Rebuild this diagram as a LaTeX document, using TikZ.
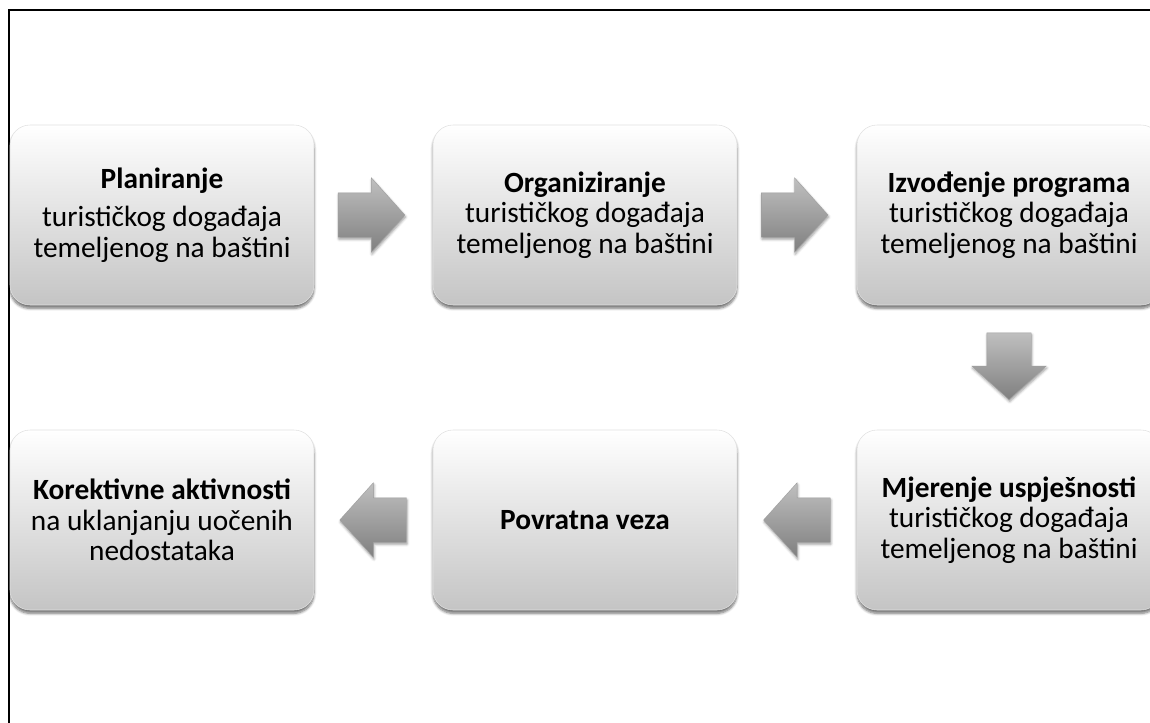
\documentclass[tikz,border=0pt]{standalone}
\usepackage{fontspec}
\setmainfont{Carlito}
\usetikzlibrary{shapes.arrows,shadows.blur,calc}

\tikzset{
	stagebox/.style={rounded corners=15pt, minimum width=228pt, minimum height=135pt, inner sep=0pt,
		top color=white, bottom color=black!23, draw=black!12, line width=0.4pt,
		blur shadow={shadow xshift=0pt, shadow yshift=-2.5pt, shadow blur steps=6, shadow opacity=55},
		align=center, font=\fontsize{22}{22.8}\selectfont},
	flowarrow/.style={single arrow, anchor=tail, inner sep=0pt, text height=33pt, text depth=0pt, text width=0pt,
		minimum height=50pt, single arrow head extend=11.25pt, single arrow tip angle=96,
		top color=black!25, bottom color=black!50, draw=black!38, line width=0.3pt,
		blur shadow={shadow xshift=0.5pt, shadow yshift=-1.5pt, shadow blur steps=4, shadow opacity=40}}
}

\begin{document}
\begin{tikzpicture}[x=0.75pt,y=-0.75pt]
	\useasboundingbox (0,0) rectangle (1150,722);
	\clip (0,0) rectangle (1150,722);
	\draw[line width=1.5pt] (8.5,760) |- (1180,10);

	\node[stagebox] (plan) at (162,215) {\textbf{Planiranje}\\[6pt]turističkog događaja\\temeljenog na baštini};
	\node[stagebox] (organ) at (585,215) {\textbf{Organiziranje}\\turističkog događaja\\temeljenog na baštini};
	\node[stagebox] (izvod) at (1009,215) {\textbf{Izvođenje programa}\\turističkog događaja\\temeljenog na baštini};
	\node[stagebox] (mjer) at (1009,520) {\textbf{Mjerenje uspješnosti}\\turističkog događaja\\temeljenog na baštini};
	\node[stagebox] (povrat) at (585,520) {\textbf{Povratna veza}};
	\node[stagebox] (korekt) at (162,520) {\textbf{Korektivne aktivnosti}\\na uklanjanju uočenih\\nedostataka};

	\node[flowarrow] (a1) at ($(plan.east)!0.2!(organ.west)$) {};
	\node[flowarrow] (a2) at ($(organ.east)!0.2!(izvod.west)$) {};
	\node[flowarrow, rotate=270] (a3) at ($(izvod.south)!0.22!(mjer.north)$) {};
	\node[flowarrow, rotate=180] (a4) at ($(mjer.west)!0.22!(povrat.east)$) {};
	\node[flowarrow, rotate=180] (a5) at ($(povrat.west)!0.22!(korekt.east)$) {};
\end{tikzpicture}
\end{document}
